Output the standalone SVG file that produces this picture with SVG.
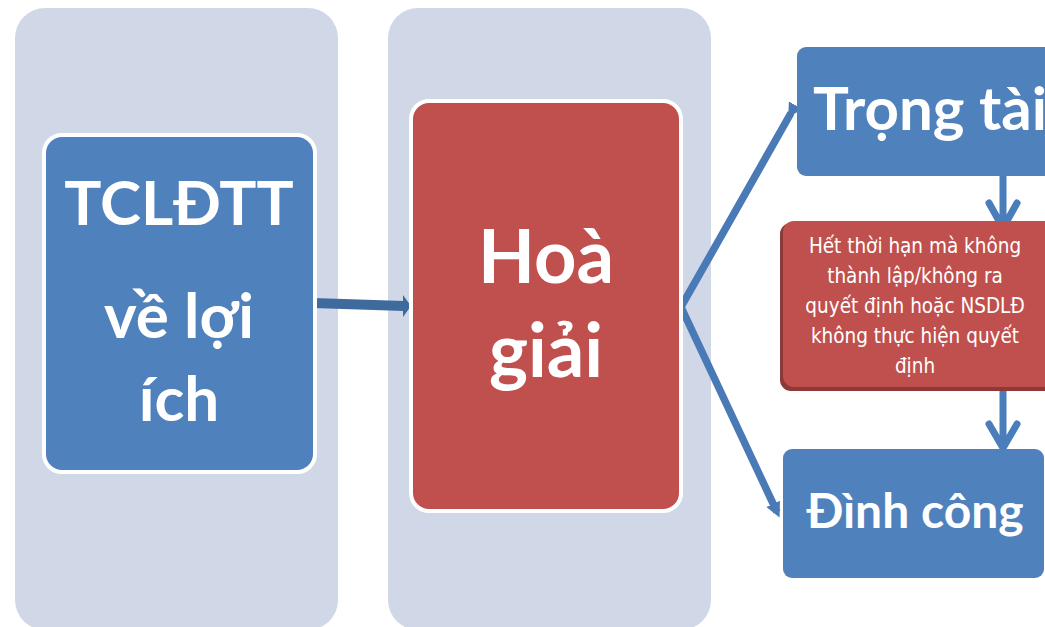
<svg xmlns="http://www.w3.org/2000/svg" width="1045" height="627" viewBox="0 0 1045 627">
<style>
.panel{fill:#D0D8E8}
.blue{fill:#4F81BD}
.red{fill:#C0504D}
.big{font-family:Lato,"Open Sans","Liberation Sans",sans-serif;font-weight:700;fill:#FFFFFF;text-anchor:middle}
.small{font-family:"DejaVu Sans Condensed","Liberation Sans",sans-serif;font-size:20.5px;fill:#FFFFFF;text-anchor:middle}
.conn{fill:none;stroke:#4A7AB5;stroke-width:7.5}
</style>
<defs>
<marker id="tip" markerWidth="3" markerHeight="3" refX="1.2" refY="1.5" orient="auto" markerUnits="strokeWidth" viewBox="0 0 3 3">
<path d="M0,0.5 L2,1.5 L0,2.5 Z" fill="#4A7AB5"/>
</marker>
</defs>
<rect width="1045" height="627" fill="#FFFFFF"/>
<g id="panel1"><rect class="panel" x="15" y="8" width="323" height="622" rx="30"/></g>
<g id="panel2"><rect class="panel" x="388" y="8" width="323" height="622" rx="30"/></g>
<g id="connectors">
<path d="M313,303 L404,306" fill="none" stroke="#3F6A9E" stroke-width="10"/>
<path d="M403,295 L411,306 L403,317 Z" fill="#3F6A9E"/>
<path class="conn" d="M791,113 L681,307 L777,512" stroke-linejoin="miter" marker-start="url(#tip)" marker-end="url(#tip)"/>
<path d="M1003,176 L1003,228 M989,203 L1003,228 L1017,203" fill="none" stroke="#4A7EBB" stroke-width="7" stroke-linecap="round" stroke-linejoin="round"/>
<path d="M1003,391 L1003,448 M989,424 L1003,448 L1017,424" fill="none" stroke="#4A7EBB" stroke-width="7" stroke-linecap="round" stroke-linejoin="round"/>
</g>
<g id="tcldtt">
<rect class="blue" x="44" y="135" width="271" height="337" rx="18" stroke="#FFFFFF" stroke-width="4"/>
<text class="big" font-size="62"><tspan x="179" y="225">TCLĐTT</tspan><tspan x="179" y="338">về lợi</tspan><tspan x="179" y="421">ích</tspan></text>
</g>
<g id="hoagiai">
<rect class="red" x="411" y="101" width="270" height="410" rx="18" stroke="#FFFFFF" stroke-width="4"/>
<text class="big" font-size="74"><tspan x="546" y="283">Hoà</tspan><tspan x="546" y="377">giải</tspan></text>
</g>
<g id="trongtai">
<rect class="blue" x="797" y="47" width="260" height="129" rx="9"/>
<text class="big" font-size="60" x="813" y="130" style="text-anchor:start">Trọng tài</text>
</g>
<g id="hethoihan">
<rect x="780" y="223" width="275" height="168" rx="11" fill="#8C3A38"/>
<rect class="red" x="783" y="221" width="272" height="166" rx="11"/>
<text class="small"><tspan x="915" y="253">Hết thời hạn mà không</tspan><tspan x="915" y="283">thành lập/không ra</tspan><tspan x="915" y="313">quyết định hoặc NSDLĐ</tspan><tspan x="915" y="343">không thực hiện quyết</tspan><tspan x="915" y="373">định</tspan></text>
</g>
<g id="dinhcong">
<rect class="blue" x="783" y="449" width="261" height="129" rx="9"/>
<text class="big" font-size="48" x="915" y="528">Đình công</text>
</g>
</svg>
